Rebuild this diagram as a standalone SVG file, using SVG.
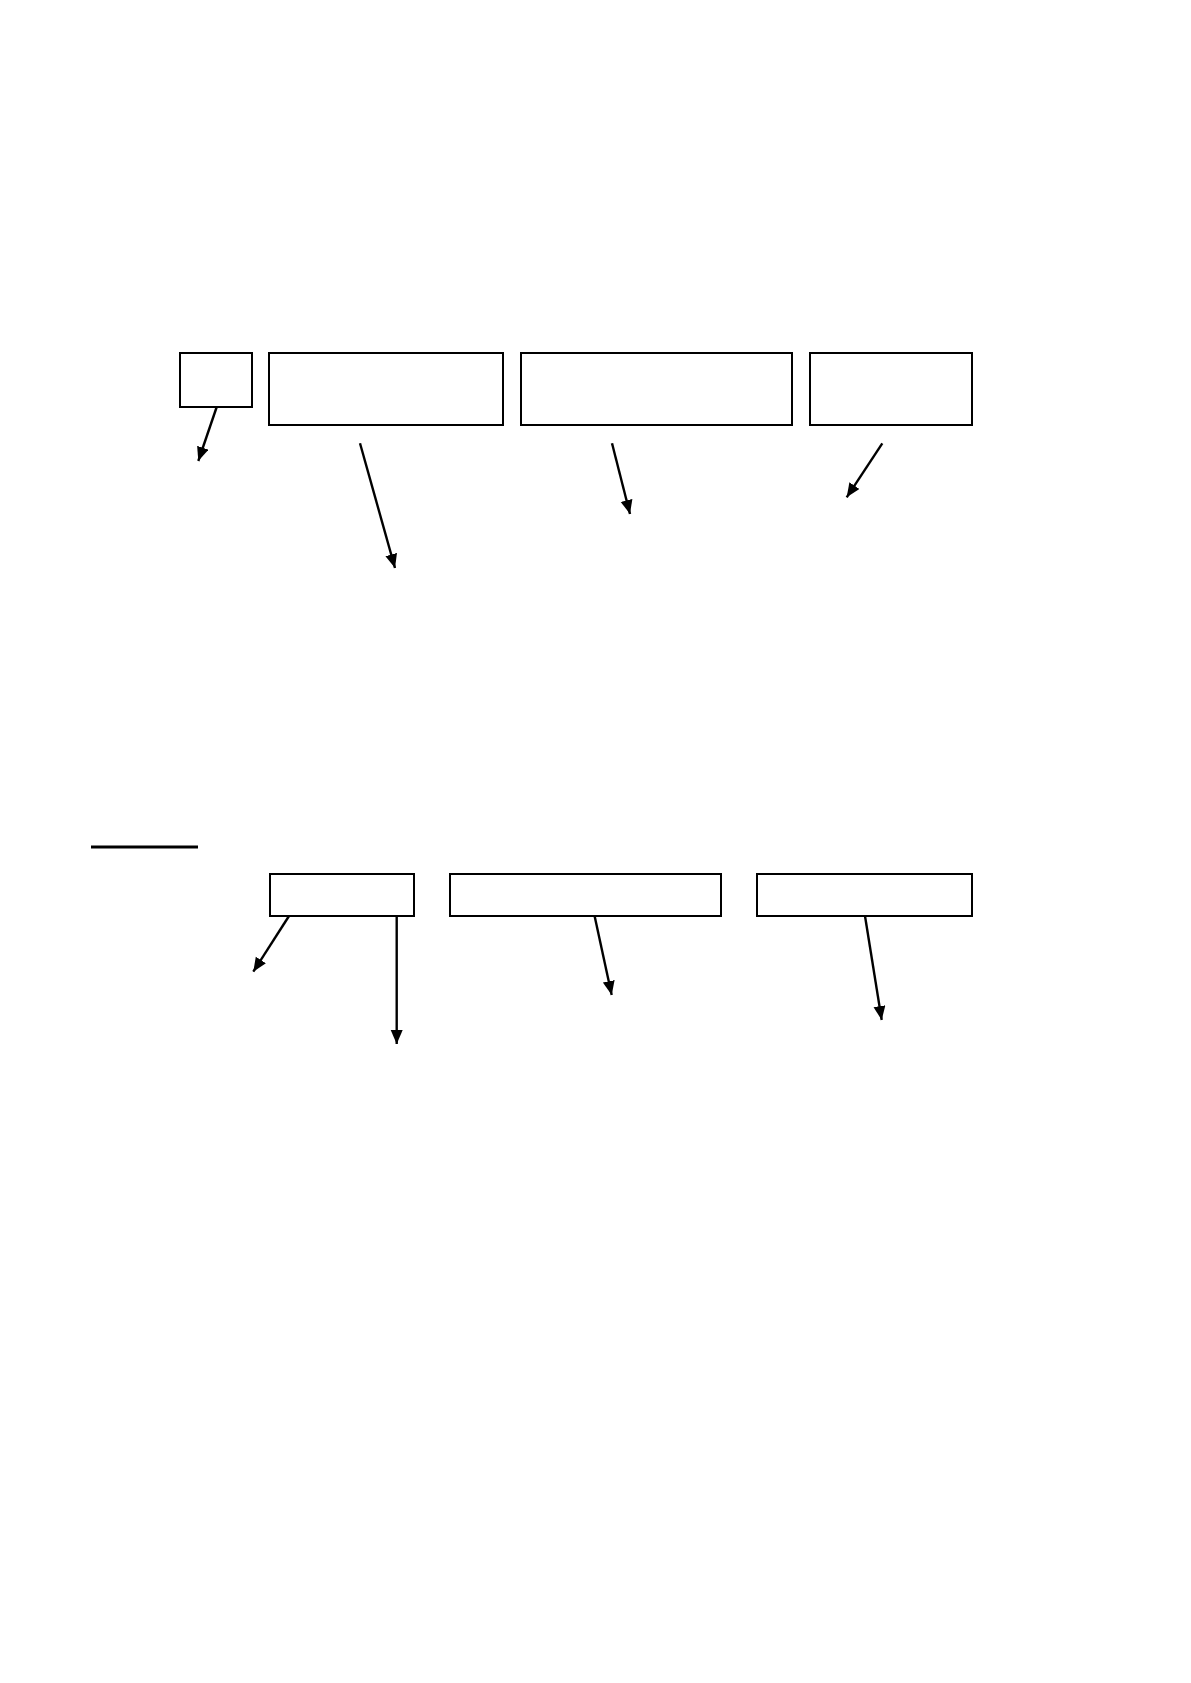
<svg xmlns="http://www.w3.org/2000/svg" width="1191" height="1683" viewBox="0 0 1191 1683">
<style>
.box{fill:#fff;stroke:#000;stroke-width:2}
.conn{stroke:#000;stroke-width:2.4;fill:none;marker-end:url(#arr)}
</style>
<defs>
<marker id="arr" markerUnits="userSpaceOnUse" markerWidth="15" markerHeight="13" refX="14" refY="6" orient="auto" viewBox="0 0 15 13">
<path d="M0,0 L14,6 L0,12 z" fill="#000"/>
</marker>
</defs>
<rect width="1191" height="1683" fill="#fff"/>
<g id="node-1"><rect class="box" x="180" y="353" width="72" height="54"/></g>
<g id="node-2"><rect class="box" x="269" y="353" width="234" height="72"/></g>
<g id="node-3"><rect class="box" x="521" y="353" width="271" height="72"/></g>
<g id="node-4"><rect class="box" x="810" y="353" width="162" height="72"/></g>
<g id="underline"><line x1="91" y1="847" x2="198" y2="847" stroke="#000" stroke-width="3"/></g>
<g id="node-5"><rect class="box" x="270" y="874" width="144" height="42"/></g>
<g id="node-6"><rect class="box" x="450" y="874" width="271" height="42"/></g>
<g id="node-7"><rect class="box" x="757" y="874" width="215" height="42"/></g>
<g id="connectors">
<line class="conn" x1="216.7" y1="407" x2="198.3" y2="461"/>
<line class="conn" x1="360" y1="443.3" x2="395" y2="568"/>
<line class="conn" x1="612" y1="443.3" x2="630" y2="514"/>
<line class="conn" x1="882.3" y1="443.3" x2="846.7" y2="497.3"/>
<line class="conn" x1="289" y1="916" x2="253.3" y2="971.7"/>
<line class="conn" x1="396.7" y1="916" x2="396.7" y2="1044"/>
<line class="conn" x1="594.6" y1="916" x2="611.7" y2="995"/>
<line class="conn" x1="865" y1="916" x2="881.7" y2="1020"/>
</g>
</svg>
